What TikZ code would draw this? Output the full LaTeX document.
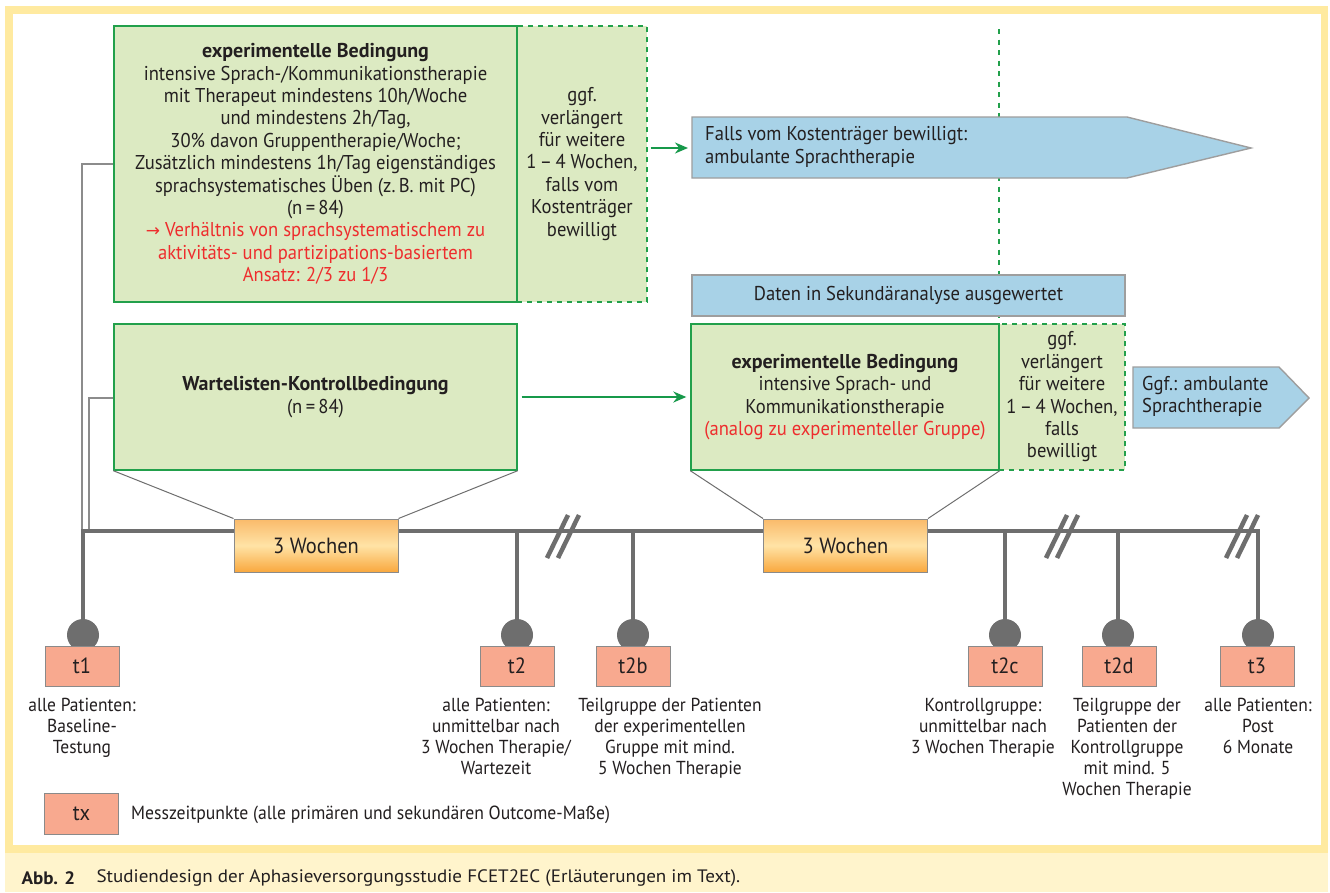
\documentclass[tikz,border=0pt]{standalone}
\usepackage{fontspec}
\setmainfont{PT Sans}[FakeStretch=0.93, BoldFeatures={FakeStretch=1.0}]
\newfontfamily\capfont{PT Sans}[FakeStretch=1.06]
\newfontfamily\symfont{DejaVu Sans}
\usetikzlibrary{arrows.meta}
\definecolor{txt}{HTML}{231F20}
\definecolor{gline}{HTML}{22A04B}
\definecolor{gfill}{HTML}{DCEAC2}
\definecolor{garrow}{HTML}{16994A}
\definecolor{bfill}{HTML}{A8D2E7}
\definecolor{bline}{HTML}{9E9E9E}
\definecolor{redtxt}{HTML}{EE2D2D}
\definecolor{salmon}{HTML}{F8A98F}
\definecolor{sline}{HTML}{8A8A8A}
\definecolor{tlgray}{HTML}{6E6E6E}
\definecolor{thin}{HTML}{8C8C8C}
\definecolor{ybord}{HTML}{FFEAA0}
\definecolor{yband}{HTML}{FFF4CC}
\definecolor{oA}{HTML}{FABA6A}
\definecolor{oB}{HTML}{FFE3A6}
\definecolor{oC}{HTML}{F9A83E}
\tikzset{
  every node/.style={font=\fontsize{20}{22.4}\selectfont, text=txt},
  gbox/.style={draw=gline, fill=gfill, line width=1.4pt, inner sep=0pt, align=center},
  gext/.style={draw=gline, fill=gfill, line width=1.4pt, dash pattern=on 5pt off 5pt, inner sep=0pt, align=center},
  bluebox/.style={draw=bline, fill=bfill, line width=1.4pt},
  garr/.style={draw=garrow, line width=2pt, -{Stealth[length=13pt,width=11pt]}},
  thinline/.style={draw=thin, line width=1.5pt},
  tline/.style={draw=tlgray, line width=4.5pt, line join=miter},
  brk/.style={draw=tlgray, line width=4.5pt},
  obox/.style={draw=sline, line width=1pt, top color=oA, bottom color=oC, middle color=oB, minimum width=164pt, minimum height=53pt, inner sep=0pt, font=\fontsize{22}{24}\selectfont},
  mbox/.style={draw=sline, fill=salmon, line width=1pt, minimum width=74pt, minimum height=40pt, inner sep=0pt, font=\fontsize{22}{24}\selectfont},
  pin/.style={fill=tlgray},
  lbl/.style={anchor=north, align=center, font=\fontsize{18.8}{21}\selectfont},
  trap/.style={draw=tlgray, line width=1pt}
}
\begin{document}
\begin{tikzpicture}[x=1pt, y=-1pt]
\useasboundingbox (0,0) rectangle (1330,892);
% frame
\fill[white] (0,0) rectangle (1330,892);
\fill[ybord] (5,6) rectangle (1328,853);
\fill[white] (13,14) rectangle (1321,845);
\fill[yband] (5,853) rectangle (1328,892);
\node[anchor=west, font=\capfont\fontsize{18}{21}\selectfont\bfseries] (abb) at (18,878) {Abb. 2};
\node[anchor=west, font=\capfont\fontsize{18}{21}\selectfont] (cap) at (93,878) {Studiendesign der Aphasieversorgungsstudie FCET2EC (Erläuterungen im Text).};

% dashed vertical line
\coordinate (dtop) at (999,29);
\coordinate (dbot) at (999,324);
\draw[draw=gline, line width=1.6pt, dash pattern=on 5pt off 5.5pt] (dtop) -- (dbot);

% experimental condition 1
\node[gext, minimum width=130pt, minimum height=276pt] (ext1) at (582,164) {ggf.\\verlängert\\für weitere\\1\,–\,4 Wochen,\\falls vom\\Kostenträger\\bewilligt};
\node[gbox, minimum width=403pt, minimum height=276pt] (exp1) at (315.5,164) {{\bfseries experimentelle Bedingung}\\
intensive Sprach-/Kommunikationstherapie\\
mit Therapeut mindestens 10h/Woche\\
und mindestens 2h/Tag,\\
30\% davon Gruppentherapie/Woche;\\
Zusätzlich mindestens 1h/Tag eigenständiges\\
sprachsystematisches Üben (z.\,B. mit PC)\\
(n\,=\,84)\\
\textcolor{redtxt}{{\symfont\fontsize{17}{22.4}\selectfont →} Verhältnis von sprachsystematischem zu}\\
\textcolor{redtxt}{aktivitäts- und partizipations-basiertem}\\
\textcolor{redtxt}{Ansatz: 2/3 zu 1/3}};

% blue arrow 1
\path[bluebox] (692,117) -- (1127,117) -- (1251,148) -- (1127,178) -- (692,178) -- cycle;
\coordinate (fain) at (692,148);
\node[anchor=west, align=left, inner sep=0pt] (fa) at (705,147) {Falls vom Kostenträger bewilligt:\\ambulante Sprachtherapie};
\draw[garr] ([xshift=3pt]ext1.east |- fain) -- ([xshift=-4pt]fain);

% Daten box
\node[bluebox, minimum width=433pt, minimum height=41pt, inner sep=0pt] (daten) at (908.5,295.5) {Daten in Sekundäranalyse ausgewertet};

% Wartelisten
\node[gbox, minimum width=403pt, minimum height=146pt] (wl) at (315.5,397) {{\bfseries Wartelisten-Kontrollbedingung}\\(n\,=\,84)};

% experimental condition 2
\node[gext, minimum width=126pt, minimum height=146pt] (ext2) at (1062,397) {ggf.\\verlängert\\für weitere\\1\,–\,4 Wochen,\\falls\\bewilligt};
\node[gbox, minimum width=308pt, minimum height=146pt] (exp2) at (845,397) {{\bfseries experimentelle Bedingung}\\intensive Sprach- und\\Kommunikationstherapie\\\textcolor{redtxt}{(analog zu experimenteller Gruppe)}};
\draw[garr] ([xshift=4pt]wl.east) -- ([xshift=-4pt]exp2.west);

% blue arrow 2
\path[bluebox] (1133,367) -- (1279,367) -- (1309,398) -- (1279,428) -- (1133,428) -- cycle;
\node[anchor=west, align=left, inner sep=0pt] (gg) at (1142,396.5) {Ggf.: ambulante\\Sprachtherapie};

% thin connectors
\coordinate (c1) at (82,531);
\coordinate (c2) at (89,531);
\draw[thinline] (exp1.west) -| (c1);
\draw[thinline] (wl.west |- 0,398) -| (c2);

% timeline
\coordinate (p1) at (83,635);
\coordinate (p2) at (517,635);
\coordinate (p2b) at (633,635);
\coordinate (p2c) at (1005,635);
\coordinate (p2d) at (1118,635);
\coordinate (p3) at (1258,635);
\draw[tline] (p1) -- (83,531) -- (1258,531) -- (p3);
\foreach \p in {p2,p2b,p2c,p2d} {\draw[tline] (\p) -- (\p |- 0,531);}
\foreach \bx in {563,1062,1242} {
  \draw[brk] (\bx-16,558) -- (\bx+5,515);
  \draw[brk] (\bx-5,558) -- (\bx+16,515);
}

% 3 Wochen boxes
\node[obox] (ob1) at (316,545.5) {3 Wochen};
\node[obox] (ob2) at (845.5,545.5) {3 Wochen};
\draw[trap] (wl.south west) -- (ob1.north west);
\draw[trap] (wl.south east) -- (ob1.north east);
\draw[trap] (exp2.south west) -- (ob2.north west);
\draw[trap] (exp2.south east) -- (ob2.north east);

% pins and measurement boxes
\foreach \p in {p1,p2,p2b,p2c,p2d,p3} {\fill[pin] (\p) circle (16pt);}
\node[mbox] (t1) at (82,666) {t1};
\node[mbox] (t2) at (517,666) {t2};
\node[mbox] (t2b) at (633,666) {t2b};
\node[mbox] (t2c) at (1005,666) {t2c};
\node[mbox] (t2d) at (1119,666) {t2d};
\node[mbox] (t3) at (1257,666) {t3};

\node[lbl] (l1) at (82,695) {alle Patienten:\\Baseline-\\Testung};
\node[lbl] (l2) at (496,695) {alle Patienten:\\unmittelbar nach\\3 Wochen Therapie/\\Wartezeit};
\node[lbl] (l2b) at (670,695) {Teilgruppe der Patienten\\der experimentellen\\Gruppe mit mind.\\5 Wochen Therapie};
\node[lbl] (l2c) at (983,695) {Kontrollgruppe:\\unmittelbar nach\\3 Wochen Therapie};
\node[lbl] (l2d) at (1127,695) {Teilgruppe der\\Patienten der\\Kontrollgruppe\\mit mind. 5\\Wochen Therapie};
\node[lbl] (l3) at (1258,695) {alle Patienten:\\Post\\6 Monate};

% legend
\node[mbox, minimum height=41pt] (tx) at (81.5,813.5) {tx};
\node[anchor=west, font=\fontsize{19}{21}\selectfont, inner sep=0pt] (leg) at (131,815) {Messzeitpunkte (alle primären und sekundären Outcome-Maße)};
\end{tikzpicture}
\end{document}
